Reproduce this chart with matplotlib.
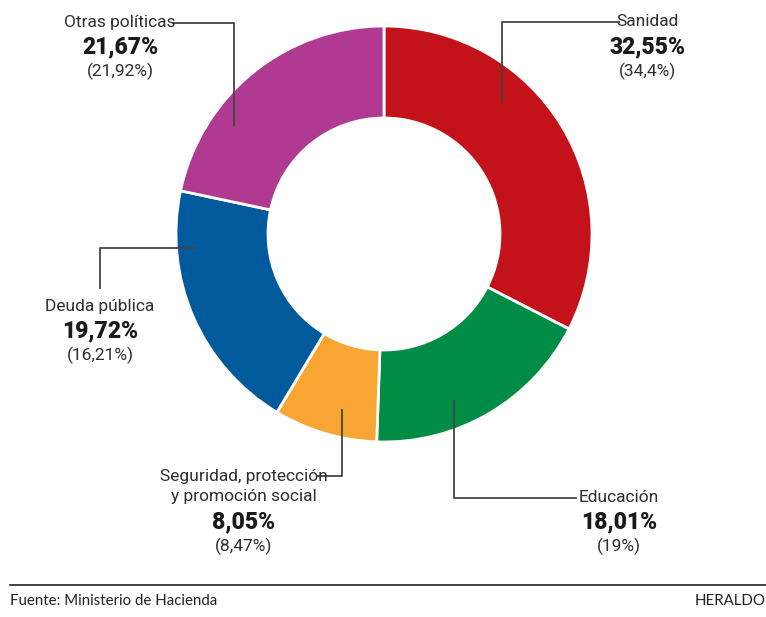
import matplotlib.pyplot as plt

# porcentaje del gasto por politica (entre parentesis: año anterior)
categorias = ['Sanidad', 'Educación', 'Seguridad, protección\ny promoción social',
              'Deuda pública', 'Otras políticas']
valores = [32.55, 18.01, 8.05, 19.72, 21.67]
anterior = ['34,4%', '19%', '8,47%', '16,21%', '21,92%']
colores = ['#c4121a', '#008c45', '#f9a533', '#005a9c', '#b03a92']

# posicion de las etiquetas (px) y codos de las lineas guia
etiq_xy = [(648, 22), (619, 497), (244, 476), (100, 306), (120, 22)]
guias = [
    [(502, 102), (502, 22), (619, 22)],
    [(454, 401), (454, 498), (576, 498)],
    [(342, 410), (342, 476), (318, 476)],
    [(195, 248), (100, 248), (100, 288)],
    [(173, 23), (234, 23), (234, 125)],
]

fig = plt.figure(figsize=(7.66, 6.17), dpi=100)
ax = fig.add_axes([0, 0, 1, 1])

# eje y invertido: startangle -90 = arriba, antihorario en datos = horario en pantalla
ax.pie(valores, colors=colores, startangle=-90, counterclock=True,
       center=(384, 234), radius=208, frame=True,
       wedgeprops=dict(width=92, edgecolor='white', linewidth=2))
ax.set_xlim(0, 766)
ax.set_ylim(617, 0)
ax.set_aspect('equal')
ax.axis('off')

for g in guias:
    xs = [p[0] for p in g]
    ys = [p[1] for p in g]
    ax.plot(xs, ys, color='#444444', lw=1.3)

fuente_lab = ['Roboto', 'DejaVu Sans']
for cat, v, ant, (x, y) in zip(categorias, valores, anterior, etiq_xy):
    lineas = cat.split('\n')
    for i, l in enumerate(lineas):
        ax.text(x, y + i * 21, l, ha='center', va='center', fontsize=12.5,
                color='#2e2e2e', family=fuente_lab)
    yb = y + 25 + (len(lineas) - 1) * 21
    ax.text(x, yb, f'{v:.2f}%'.replace('.', ','), ha='center', va='center',
            fontsize=16.5, fontweight='black', color='#1a1a1a', family=fuente_lab)
    ax.text(x, yb + 24, f'({ant})', ha='center', va='center', fontsize=12.5,
            color='#2e2e2e', family=fuente_lab)

ax.plot([10, 766], [585, 585], color='#222222', lw=1.2)
ax.text(10, 601, 'Fuente: Ministerio de Hacienda', ha='left', va='center',
        fontsize=10.8, color='#222222', family=['Lato', 'DejaVu Sans'])
ax.text(766, 601, 'HERALDO', ha='right', va='center',
        fontsize=10.8, color='#222222', family=['Lato', 'DejaVu Sans'])

fig.savefig('out.png', dpi=100)
